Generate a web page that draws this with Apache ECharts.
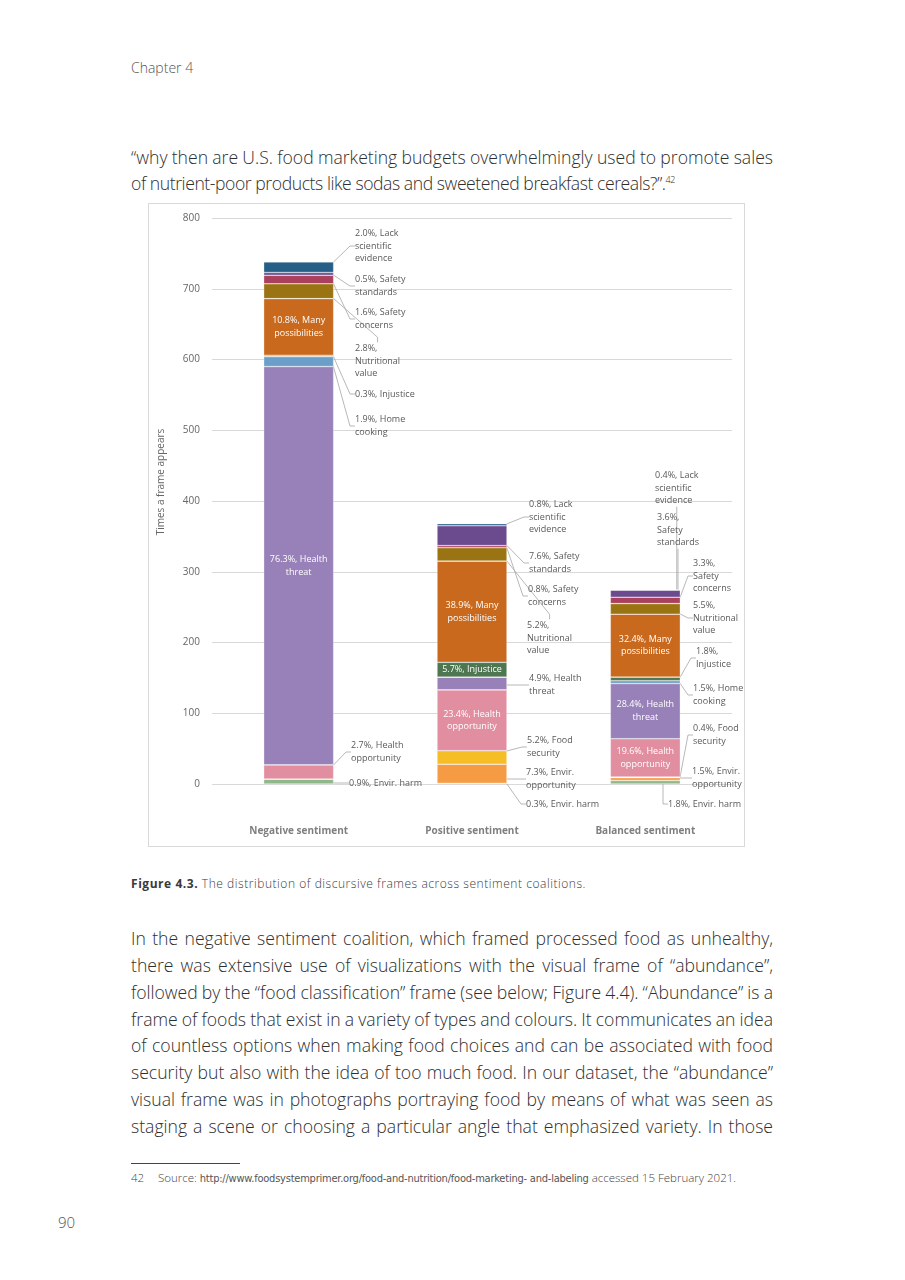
<!DOCTYPE html>
<html>
<head>
<meta charset="utf-8">
<script src="https://cdn.jsdelivr.net/npm/echarts/dist/echarts.min.js"></script>
<style>
  html, body { margin:0; padding:0; background:#fff; }
  body { width:905px; height:1280px; position:relative; overflow:hidden; font-family:"Open Sans", sans-serif; color:#333; }
  .t { position:absolute; white-space:nowrap; font-weight:300; }
  .line { position:absolute; left:131px; white-space:nowrap; font-weight:300; font-size:17.6px; line-height:22px; color:#2e2e2e; }
  .q { position:absolute; left:131px; white-space:nowrap; font-weight:300; font-size:17.6px; line-height:24px; color:#2e2e2e; }
  #frame { position:absolute; left:148px; top:203px; width:597px; height:644px; box-sizing:border-box; border:1px solid #d9d9d9; }
  #chart { position:absolute; left:148px; top:203px; width:597px; height:644px; }
</style>
</head>
<body>
<div class="t" id="chap" style="left:131px; top:58px; font-size:14px; line-height:20px; color:#555;">Chapter 4</div>

<div class="q" id="q1" style="top:145px;">“why then are U.S. food marketing budgets overwhelmingly used to promote sales</div>
<div class="q" id="q2" style="top:171px;">of nutrient-poor products like sodas and sweetened breakfast cereals?”.<sup style="font-size:9px; vertical-align:7px; line-height:0;">42</sup></div>

<div id="frame"></div>
<div id="chart"></div>

<div class="t" id="cap" style="left:131px; top:876px; font-size:12px; line-height:16px; color:#3a3a3a;"><b style="font-weight:700; color:#3a3a3a;">Figure 4.3.</b> The distribution of discursive frames across sentiment coalitions.</div>

<div class="line" id="b1" style="top:927px;">In the negative sentiment coalition, which framed processed food as unhealthy,</div>
<div class="line" id="b2" style="top:954px;">there was extensive use of visualizations with the visual frame of “abundance”,</div>
<div class="line" id="b3" style="top:981px;">followed by the “food classification” frame (see below; Figure 4.4). “Abundance” is a</div>
<div class="line" id="b4" style="top:1008px;">frame of foods that exist in a variety of types and colours. It communicates an idea</div>
<div class="line" id="b5" style="top:1034px;">of countless options when making food choices and can be associated with food</div>
<div class="line" id="b6" style="top:1061px;">security but also with the idea of too much food. In our dataset, the “abundance”</div>
<div class="line" id="b7" style="top:1088px;">visual frame was in photographs portraying food by means of what was seen as</div>
<div class="line" id="b8" style="top:1115px;">staging a scene or choosing a particular angle that emphasized variety. In those</div>

<div style="position:absolute; left:131px; top:1163px; width:109px; height:1px; background:#444;"></div>
<div class="t" style="left:131px; top:1170px; font-size:11.5px; line-height:16px; color:#444;">42</div>
<div class="t" id="fn" style="left:158px; top:1170px; font-size:11.5px; line-height:16px; color:#444;">Source: <span id="url" style="font-family:'Liberation Sans Narrow','DejaVu Sans Condensed',sans-serif; font-weight:400; font-size:11px; color:#555;">http://www.foodsystemprimer.org/food-and-nutrition/food-marketing- and-labeling</span> accessed 15 February 2021.</div>

<div class="t" style="left:58px; top:1212px; font-size:15px; line-height:20px; color:#555;">90</div>

<script>
// ---------- DATA ----------
const categories = ['Negative sentiment', 'Positive sentiment', 'Balanced sentiment'];
const frames = ['Envir. harm', 'Envir. opportunity', 'Food security', 'Health opportunity', 'Health threat',
  'Home cooking', 'Injustice', 'Many possibilities', 'Nutritional value', 'Safety concerns',
  'Safety standards', 'Lack scientific evidence'];
const yTicks = [0, 100, 200, 300, 400, 500, 600, 700, 800];

// counts (times a frame appears) per coalition: [negative, positive, balanced]
const envirHarm              = [7, 1, 5];
const envirOpportunity       = [0, 27, 4];
const foodSecurity           = [0, 19, 1];
const healthOpportunity      = [20, 86, 54];
const healthThreat           = [563, 18, 78];
const homeCooking            = [14, 0, 4];
const injustice              = [2, 21, 5];
const manyPossibilities      = [80, 143, 89];
const nutritionalValue       = [21, 19, 15];
const safetyConcerns         = [12, 3, 9];
const safetyStandards        = [4, 28, 10];
const lackScientificEvidence = [15, 3, 1];

// shares shown in the labels (%)
const pctEnvirHarm              = [0.9, 0.3, 1.8];
const pctEnvirOpportunity       = [null, 7.3, 1.5];
const pctFoodSecurity           = [null, 5.2, 0.4];
const pctHealthOpportunity      = [2.7, 23.4, 19.6];
const pctHealthThreat           = [76.3, 4.9, 28.4];
const pctHomeCooking            = [1.9, null, 1.5];
const pctInjustice              = [0.3, 5.7, 1.8];
const pctManyPossibilities      = [10.8, 38.9, 32.4];
const pctNutritionalValue       = [2.8, 5.2, 5.5];
const pctSafetyConcerns         = [1.6, 0.8, 3.3];
const pctSafetyStandards        = [0.5, 7.6, 3.6];
const pctLackScientificEvidence = [2.0, 0.8, 0.4];

// ---------- STYLE / LAYOUT ----------
const seriesValues = [envirHarm, envirOpportunity, foodSecurity, healthOpportunity, healthThreat, homeCooking,
  injustice, manyPossibilities, nutritionalValue, safetyConcerns, safetyStandards, lackScientificEvidence];
const seriesPct = [pctEnvirHarm, pctEnvirOpportunity, pctFoodSecurity, pctHealthOpportunity, pctHealthThreat,
  pctHomeCooking, pctInjustice, pctManyPossibilities, pctNutritionalValue, pctSafetyConcerns,
  pctSafetyStandards, pctLackScientificEvidence];
const frameColors = ['#8fb98b', '#f59b43', '#f5bd26', '#e28ea1', '#9881b8', '#6b9fc9',
  '#4e7650', '#c8691e', '#9a7412', '#a9405e', '#6b4a8e', '#255e86'];

const CHART_LEFT = 148, CHART_TOP = 203;
// outside labels: key "frame-category" -> [page x, page y (middle), words per line]
const outsideLabels = {
  '0-0': [349, 783, [3]], '3-0': [351, 752, [2, 1]], '5-0': [355, 426, [2, 1]], '6-0': [355, 394, [2]],
  '8-0': [355, 361, [1, 1, 1]], '9-0': [355, 319, [2, 1]], '10-0': [355, 286, [2, 1]], '11-0': [355, 246, [2, 1, 1]],
  '0-1': [526, 804, [3]], '1-1': [526, 779, [2, 1]], '2-1': [527, 747, [2, 1]], '4-1': [529, 685, [2, 1]],
  '8-1': [527, 638, [1, 1, 1]], '9-1': [528, 596, [2, 1]], '10-1': [529, 563, [2, 1]], '11-1': [529, 517, [2, 1, 1]],
  '0-2': [668, 804, [3]], '1-2': [692, 778, [2, 1]], '2-2': [693, 735, [2, 1]], '5-2': [693, 695, [2, 1]],
  '6-2': [696, 658, [1, 1]], '8-2': [693, 618, [1, 1, 1]], '9-2': [693, 576, [1, 1, 1]], '10-2': [657, 530, [1, 1, 1]],
  '11-2': [655, 488, [2, 1, 1]]
};
// inside labels: key -> words per line
const insideLabels = {
  '4-0': [2, 1], '7-0': [2, 1], '3-1': [2, 1], '6-1': [2], '7-1': [2, 1], '3-2': [2, 1], '4-2': [2, 1], '7-2': [2, 1]
};

function wrapWords(text, counts) {
  const w = text.split(' ');
  const out = []; let i = 0;
  counts.forEach((n, k) => {
    const take = (k === counts.length - 1) ? w.length - i : n;
    out.push(w.slice(i, i + take).join(' ')); i += take;
  });
  return out.join('\n');
}

const series = frames.map((name, s) => ({
  name: name,
  type: 'bar',
  stack: 'total',
  barWidth: 70,
  itemStyle: { color: frameColors[s], borderColor: 'rgba(255,255,255,0.55)', borderWidth: 0.6 },
  labelLine: { show: true, length2: 5, lineStyle: { color: '#a6a6a6', width: 0.8 } },
  labelLayout: function (p) {
    const o = outsideLabels[s + '-' + p.dataIndex];
    if (!o) return {};
    return { x: o[0] - CHART_LEFT, y: o[1] - CHART_TOP, align: 'left', verticalAlign: 'middle' };
  },
  data: seriesValues[s].map((v, c) => {
    const key = s + '-' + c;
    const pct = seriesPct[s][c];
    const txt = pct == null ? '' : pct.toFixed(1) + '%, ' + name;
    const base = { fontFamily: 'Open Sans', fontSize: 9, lineHeight: 12.5 };
    if (insideLabels[key]) {
      return { value: v, label: Object.assign({ show: true, position: 'inside', color: '#ffffff', align: 'center',
        formatter: wrapWords(txt, insideLabels[key]) }, base) };
    }
    if (outsideLabels[key]) {
      return { value: v, label: Object.assign({ show: true, position: 'inside', color: '#595959',
        formatter: wrapWords(txt, outsideLabels[key][2]) }, base) };
    }
    return { value: v, label: { show: false } };
  })
}));

const chart = echarts.init(document.getElementById('chart'), null, { renderer: 'canvas' });
chart.setOption({
  animation: false,
  backgroundColor: 'transparent',
  grid: { left: 64, right: 13, top: 15, bottom: 63, containLabel: false },
  xAxis: {
    type: 'category',
    data: categories,
    axisLine: { show: false },
    axisTick: { show: false },
    axisLabel: { margin: 42, fontFamily: 'Open Sans', fontSize: 10, fontWeight: 'bold', color: '#7f7f7f' },
    splitLine: { show: false }
  },
  yAxis: {
    type: 'value',
    min: yTicks[0],
    max: yTicks[yTicks.length - 1],
    interval: yTicks[1] - yTicks[0],
    name: 'Times a frame appears',
    nameLocation: 'middle',
    nameGap: 46,
    nameTextStyle: { fontFamily: 'Open Sans', fontSize: 10, color: '#666', padding: [0, 0, 0, 38] },
    axisLine: { show: false },
    axisTick: { show: false },
    axisLabel: { margin: 12, fontFamily: 'Open Sans', fontSize: 10, color: '#666' },
    splitLine: { show: true, lineStyle: { color: '#d9d9d9', width: 1 } }
  },
  series: series
});

// ---------- page text fitting ----------
function justify(el, target) {
  el.style.wordSpacing = '0px';
  const w = el.getBoundingClientRect().width;
  const n = (el.textContent.match(/ /g) || []).length;
  if (n) el.style.wordSpacing = ((target - w) / n) + 'px';
}
function fitLetters(el, target) {
  el.style.letterSpacing = '0px';
  const w = el.getBoundingClientRect().width;
  const n = el.textContent.length;
  el.style.letterSpacing = ((target - w) / n) + 'px';
}
['b1','b2','b3','b4','b5','b6','b7','b8'].forEach(id => justify(document.getElementById(id), 642));
justify(document.getElementById('q1'), 642);
fitLetters(document.getElementById('q2'), 544);
fitLetters(document.getElementById('cap'), 455);
(function () {
  const fn = document.getElementById('fn');
  const url = document.getElementById('url');
  url.style.letterSpacing = '0px';
  const w = fn.getBoundingClientRect().width;
  url.style.letterSpacing = ((578 - w) / url.textContent.length) + 'px';
})();
</script>
</body>
</html>
